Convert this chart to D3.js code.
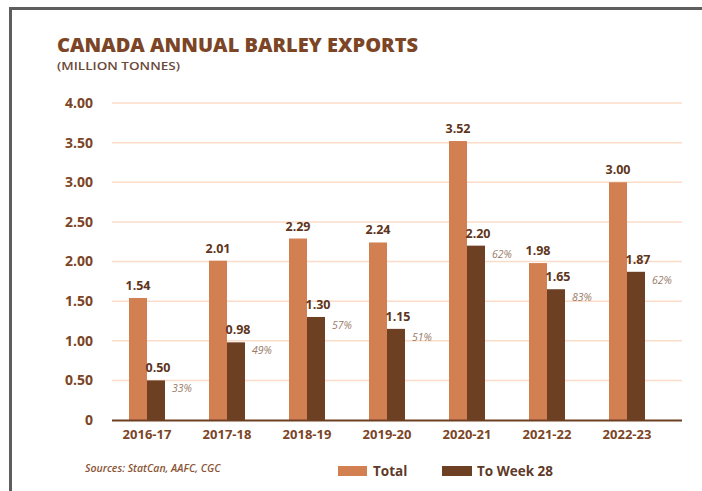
<!DOCTYPE html>
<html>
<head>
<meta charset="utf-8">
<script src="https://cdn.jsdelivr.net/npm/d3@7"></script>
<style>
  html, body { margin: 0; padding: 0; background: #fff; }
  svg { display: block; font-family: "Open Sans", sans-serif; }
</style>
</head>
<body>
<div id="chart"></div>
<script>
const seasons = ['2016-17', '2017-18', '2018-19', '2019-20', '2020-21', '2021-22', '2022-23'];
const totalValues = [1.54, 2.01, 2.29, 2.24, 3.52, 1.98, 3.00];
const weekValues = [0.50, 0.98, 1.30, 1.15, 2.20, 1.65, 1.87];
const weekShares = ['33%', '49%', '57%', '51%', '62%', '83%', '62%'];
const yTicks = [0, 0.5, 1, 1.5, 2, 2.5, 3, 3.5, 4];
const seriesNames = ['Total', 'To Week 28'];

const colors = { total: '#d27f51', week: '#6d3f23', text: '#7b4526', grid: '#fbdcc8' };

const w = 702, h = 491;

const svg = d3.select('#chart')
  .append('svg')
  .attr('width', w)
  .attr('height', h);

// frame
svg.append('rect')
  .attr('x', 10.5)
  .attr('y', 8.5)
  .attr('width', 720)
  .attr('height', 520)
  .attr('fill', 'none')
  .attr('stroke', '#5e5e5e')
  .attr('stroke-width', 3);

// title
svg.append('text')
  .attr('x', 57)
  .attr('y', 52)
  .attr('textLength', 361)
  .attr('lengthAdjust', 'spacingAndGlyphs')
  .style('font-size', '19px')
  .style('font-weight', 800)
  .style('fill', colors.text)
  .text('CANADA ANNUAL BARLEY EXPORTS');

svg.append('text')
  .attr('x', 57)
  .attr('y', 70)
  .attr('textLength', 123)
  .attr('lengthAdjust', 'spacingAndGlyphs')
  .style('font-size', '11.5px')
  .style('font-weight', 600)
  .style('fill', '#6a4a3a')
  .text('(MILLION TONNES)');

// scales
const yScale = d3.scaleLinear()
  .domain([0, 4])
  .range([420, 103]);

const xScale = d3.scaleBand()
  .domain(seasons)
  .range([107, 667])
  .paddingInner(0.55)
  .paddingOuter(0.275);

const subScale = d3.scaleBand()
  .domain(seriesNames)
  .range([0, xScale.bandwidth()]);

// gridlines
svg.append('g')
  .selectAll('line')
  .data(yTicks.filter(d => d > 0))
  .enter()
  .append('line')
  .attr('x1', 112)
  .attr('x2', 682)
  .attr('y1', d => yScale(d))
  .attr('y2', d => yScale(d))
  .attr('stroke', colors.grid)
  .attr('stroke-width', 1.5);

// y axis labels
const yAxis = d3.axisLeft(yScale)
  .tickValues(yTicks)
  .tickSize(0)
  .tickPadding(0)
  .tickFormat(d => d === 0 ? '0' : d3.format('.2f')(d));

svg.append('g')
  .attr('transform', 'translate(93, 0)')
  .call(yAxis)
  .call(g => g.select('.domain').remove())
  .selectAll('text')
  .style('font-family', '"Open Sans", sans-serif')
  .style('font-size', '14px')
  .style('font-weight', 700)
  .style('fill', colors.text);

// bars
const groups = svg.append('g')
  .selectAll('g')
  .data(seasons)
  .enter()
  .append('g')
  .attr('transform', d => `translate(${xScale(d)}, 0)`);

groups.append('rect')
  .attr('x', subScale('Total'))
  .attr('y', (_, i) => yScale(totalValues[i]))
  .attr('width', subScale.bandwidth())
  .attr('height', (_, i) => yScale(0) - yScale(totalValues[i]))
  .style('fill', colors.total);

groups.append('rect')
  .attr('x', subScale('To Week 28'))
  .attr('y', (_, i) => yScale(weekValues[i]))
  .attr('width', subScale.bandwidth())
  .attr('height', (_, i) => yScale(0) - yScale(weekValues[i]))
  .style('fill', colors.week);

// value labels
groups.append('text')
  .attr('x', subScale('Total') + subScale.bandwidth() / 2)
  .attr('y', (_, i) => yScale(totalValues[i]) - 8)
  .attr('text-anchor', 'middle')
  .style('font-size', '12.5px')
  .style('font-weight', 700)
  .style('fill', '#5e3520')
  .text((_, i) => totalValues[i].toFixed(2));

groups.append('text')
  .attr('x', subScale('To Week 28') + subScale.bandwidth() / 2 + 2)
  .attr('y', (_, i) => yScale(weekValues[i]) - 8)
  .attr('text-anchor', 'middle')
  .style('font-size', '12.5px')
  .style('font-weight', 700)
  .style('fill', '#5e3520')
  .text((_, i) => weekValues[i].toFixed(2));

groups.append('text')
  .attr('x', xScale.bandwidth() + 7)
  .attr('y', (_, i) => yScale(weekValues[i]) + 12)
  .style('font-size', '10.5px')
  .style('font-style', 'italic')
  .style('fill', '#9a7a68')
  .text((_, i) => weekShares[i]);

// x axis
const xAxis = d3.axisBottom(xScale)
  .tickSize(0)
  .tickPadding(10);

svg.append('g')
  .attr('transform', `translate(0, ${yScale(0)})`)
  .call(xAxis)
  .call(g => g.select('.domain').remove())
  .selectAll('text')
  .style('font-family', '"Open Sans", sans-serif')
  .style('font-size', '13px')
  .style('font-weight', 700)
  .style('fill', colors.text);

svg.append('line')
  .attr('x1', 112)
  .attr('x2', 682)
  .attr('y1', yScale(0) + 0.5)
  .attr('y2', yScale(0) + 0.5)
  .attr('stroke', colors.week)
  .attr('stroke-width', 2);

// source
svg.append('text')
  .attr('x', 85)
  .attr('y', 472)
  .style('font-size', '10.5px')
  .style('font-style', 'italic')
  .style('font-weight', 600)
  .style('fill', '#8a5535')
  .text('Sources: StatCan, AAFC, CGC');

// legend
const legendX = [338, 442];
const legendColors = [colors.total, colors.week];

const legend = svg.append('g')
  .selectAll('g')
  .data(seriesNames)
  .enter()
  .append('g')
  .attr('transform', (_, i) => `translate(${legendX[i]}, 466)`);

legend.append('rect')
  .attr('width', (_, i) => i === 0 ? 29 : 30)
  .attr('height', 10)
  .style('fill', (_, i) => legendColors[i]);

legend.append('text')
  .attr('x', 35)
  .attr('y', 10)
  .style('font-size', '13.5px')
  .style('font-weight', 700)
  .style('fill', '#5e3a28')
  .text(d => d);
</script>
</body>
</html>
